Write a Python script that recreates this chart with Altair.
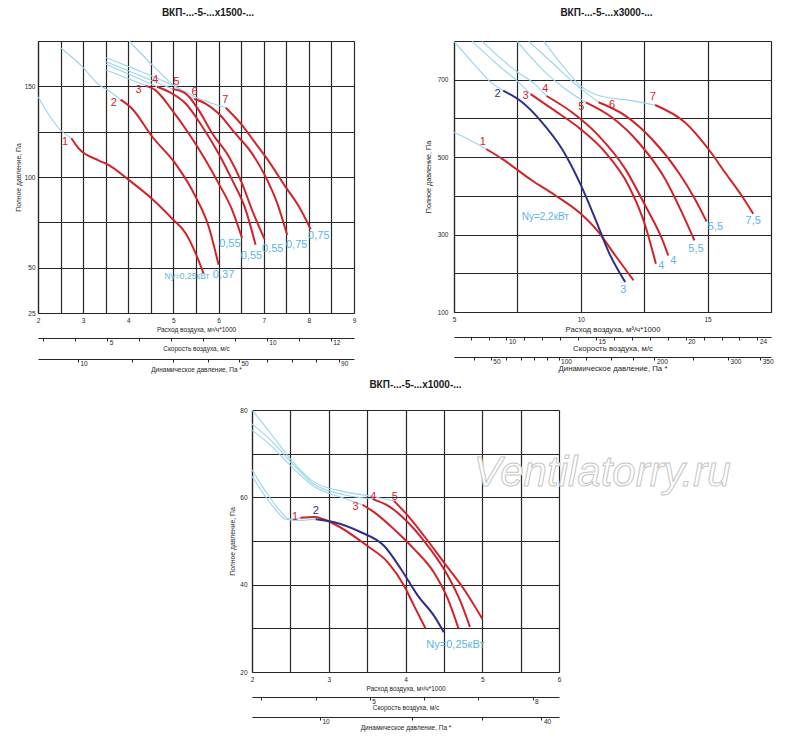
import json
import math
import altair as alt
import pandas as pd

# ---------------------------------------------------------------- constants
K = 1000.0 / (3600.0 * math.pi * 0.25 ** 2)   # m/s per 1000 m3/h, duct 500 mm
HALF_RHO = 0.6                                  # dynamic pressure = 0.6 * v^2

FONT = "Liberation Sans Narrow, Arial Narrow, Liberation Sans, Arial, sans-serif"
BFONT = "Liberation Sans, Arial, sans-serif"
RED = "#d2232a"
NAVY = "#2e3088"
CYAN = "#9ad4ec"
CYAN_TXT = "#5cb6df"
INK = "#262626"

# ---------------------------------------------------------------- panel A: x1500
A_CYAN = {
    "c1": [(2.00, 144.3), (2.50, 125.9), (2.74, 121.4)],
    "c2": [(2.50, 171.3), (2.98, 160.9), (3.35, 150.8), (3.54, 148.0), (3.83, 142.7)],
    "c3": [(4.02, 175.0), (4.53, 161.8), (5.01, 150.4), (5.46, 143.0)],
    "c4": [(3.51, 165.8), (4.61, 154.8), (5.01, 150.4), (5.50, 144.0), (6.16, 138.2)],
    "c5": [(3.51, 163.6), (4.98, 148.5)],
    "c6": [(3.51, 162.2), (4.64, 149.8)],
    "c7": [(3.51, 159.0), (4.38, 150.4)],
}
A_RED = {
    "1": [(2.74, 121.4), (2.90, 115.8), (3.34, 109.2), (3.57, 106.6), (4.01, 98.4),
          (4.53, 87.9), (5.00, 76.3), (5.27, 69.0), (5.49, 58.0), (5.67, 46.6)],
    "2": [(3.83, 142.7), (4.08, 137.8), (4.53, 122.2), (5.04, 107.5), (5.49, 89.2),
          (5.78, 72.7), (6.00, 51.6)],
    "3": [(4.38, 150.4), (4.60, 147.9), (4.97, 136.9), (5.34, 124.0), (5.71, 109.4),
          (6.00, 96.5), (6.30, 81.9), (6.52, 66.3)],
    "4": [(4.64, 149.8), (4.90, 147.0), (5.27, 140.5), (5.64, 127.7), (6.00, 113.0),
          (6.30, 98.4), (6.60, 81.9), (6.82, 62.6)],
    "5": [(4.98, 148.5), (5.27, 146.0), (5.56, 136.9), (5.86, 124.0), (6.23, 111.2),
          (6.52, 96.5), (6.74, 81.9), (7.02, 65.7)],
    "6": [(5.46, 143.0), (5.71, 140.5), (6.00, 135.0), (6.37, 124.0), (6.74, 113.0),
          (7.04, 100.2), (7.30, 85.5), (7.52, 68.1)],
    "7": [(6.16, 138.2), (6.52, 128.6), (6.82, 118.5), (7.04, 111.2), (7.48, 94.7),
          (7.78, 83.7), (8.04, 71.2)],
}
A_NAVY = {}
A_NUMS = [("1", 2.60, 119.4), ("2", 3.68, 140.9), ("3", 4.23, 148.2), ("4", 4.60, 153.5),
          ("5", 5.07, 152.4), ("6", 5.47, 146.6), ("7", 6.15, 142.4)]
A_NAVY_NUMS = []
A_KW = [("0,37", 6.11, 46.1), ("0,55", 6.25, 63.0), ("0,55", 6.73, 56.5), ("0,55", 7.20, 60.4),
        ("0,75", 7.73, 62.6), ("0,75", 8.22, 67.2)]
A_NY = [("Ny=0,25кВт", 5.30, 45.2)]

# ---------------------------------------------------------------- panel B: x3000
B_CYAN = {
    "c1": [(5.00, 564.0), (5.60, 545.0), (6.27, 521.0)],
    "c2": [(5.00, 799.0), (5.85, 736.0), (6.38, 697.5), (6.94, 671.8)],
    "c3": [(5.72, 799.0), (6.77, 736.0), (7.49, 697.0), (8.02, 663.0)],
    "c4": [(6.11, 799.0), (7.43, 723.0), (8.20, 688.0), (8.65, 658.0)],
    "c5": [(7.49, 799.0), (8.60, 719.0), (9.39, 676.0), (9.98, 650.0), (10.20, 641.7)],
    "c6": [(7.95, 799.0), (9.00, 736.0), (9.78, 689.0), (10.18, 668.0), (10.70, 641.7)],
    "c7": [(8.54, 799.0), (9.39, 727.7), (9.98, 684.7), (10.70, 659.0), (12.00, 646.0),
           (12.93, 634.8)],
}
B_RED = {
    "1": [(6.27, 521.0), (6.90, 495.5), (8.08, 439.6), (9.00, 401.0), (10.00, 353.7),
          (10.70, 306.4), (11.36, 246.0), (12.08, 181.7)],
    "3": [(8.02, 663.0), (8.87, 624.5), (9.98, 573.0), (10.96, 512.7), (11.88, 426.7),
          (12.54, 323.6), (12.96, 224.7)],
    "4": [(8.65, 658.0), (9.65, 616.0), (10.70, 555.7), (11.75, 469.7), (12.54, 375.0),
          (13.20, 289.0), (13.45, 246.0)],
    "5": [(10.20, 641.7), (11.22, 603.0), (12.27, 538.5), (13.32, 444.0), (13.98, 358.0),
          (14.48, 284.9)],
    "6": [(10.70, 641.7), (11.75, 607.3), (12.80, 547.0), (13.85, 461.0), (14.50, 392.0),
          (14.96, 333.9)],
    "7": [(12.93, 634.8), (14.10, 590.0), (15.03, 521.0), (15.68, 461.0), (16.34, 401.0),
          (16.80, 353.7)],
}
B_NAVY = {
    "2": [(6.94, 671.8), (7.69, 641.7), (8.47, 590.0), (9.26, 521.0), (9.98, 431.0),
          (10.57, 340.8), (11.10, 254.8), (11.75, 177.4)],
}
B_NUMS = [("1", 6.14, 540.0), ("3", 7.82, 657.0), ("4", 8.60, 676.0), ("5", 10.02, 628.8),
          ("6", 11.23, 635.0), ("7", 12.84, 656.0)]
B_NAVY_NUMS = [("2", 6.72, 663.0)]
B_KW = [("3", 11.68, 156.0), ("4", 13.17, 220.0), ("4", 13.65, 233.0), ("5,5", 14.54, 261.6),
        ("5,5", 15.31, 319.0), ("7,5", 16.80, 334.0)]
B_NY = [("Ny=2,2кВт", 8.60, 345.0)]

# ---------------------------------------------------------------- panel C: x1000
C_CYAN = {
    "c1": [(2.00, 80.0), (2.25, 74.5), (2.50, 68.8), (2.80, 63.6), (3.20, 61.3),
           (3.57, 60.2), (3.85, 59.2)],
    "c2": [(2.00, 76.8), (2.25, 73.0), (2.50, 68.2), (2.80, 63.1), (3.20, 60.6),
           (3.57, 59.6)],
    "c3": [(2.00, 75.4), (2.25, 71.8), (2.50, 67.3), (2.80, 62.6), (3.20, 59.8),
           (3.44, 58.3)],
    "c4": [(2.00, 66.3), (2.18, 61.3), (2.36, 57.0), (2.49, 55.0), (2.63, 55.3)],
    "c5": [(2.00, 64.8), (2.27, 58.0), (2.44, 55.0), (2.60, 54.7), (2.83, 55.0)],
}
C_RED = {
    "1": [(2.63, 55.3), (2.81, 55.5), (3.07, 53.9), (3.50, 48.9), (3.77, 45.1),
          (3.98, 39.8), (4.11, 35.2), (4.26, 30.0)],
    "3": [(3.44, 58.3), (3.59, 56.6), (3.85, 52.7), (4.11, 48.2), (4.37, 42.8),
          (4.55, 36.8), (4.69, 30.0)],
    "4": [(3.57, 59.6), (3.77, 58.1), (4.03, 54.3), (4.29, 48.9), (4.55, 42.1),
          (4.72, 36.0), (4.84, 30.3)],
    "5": [(3.85, 59.2), (4.03, 55.8), (4.24, 51.2), (4.50, 45.1), (4.76, 39.0),
          (5.00, 32.2)],
}
C_NAVY = {
    "2": [(2.83, 55.0), (3.07, 54.3), (3.42, 52.0), (3.72, 48.9), (3.94, 43.6),
          (4.16, 37.5), (4.37, 32.9), (4.50, 29.1)],
}
C_NUMS = [("1", 2.56, 55.6), ("3", 3.35, 57.9), ("4", 3.58, 60.1), ("5", 3.86, 60.1)]
C_NAVY_NUMS = [("2", 2.83, 56.9)]
C_KW = []
C_NY = [("Ny=0,25кВт", 4.65, 26.2)]
C_MARK = [("Ventilatorry.ru", 4.89, 65.5)]

# ---------------------------------------------------------------- axes values
A_Q = dict(dom=[2, 9], grid=[2, 2.5, 3, 3.5, 4, 4.5, 5, 5.5, 6, 6.5, 7, 7.5, 8, 8.5, 9],
           lab=[2, 3, 4, 5, 6, 7, 8, 9])
A_P = dict(dom=[25, 175], grid=[25, 50, 75, 100, 125, 150, 175], lab=[25, 50, 100, 150])
A_SP = dict(ticks=[3, 4, 5, 6, 7, 8, 9, 10, 11, 12], lab=[5, 10, 12])
A_DP = dict(ticks=[10, 20, 30, 40, 50, 60, 70, 80, 90], lab=[10, 50, 90])

B_Q = dict(dom=[5, 17.5], grid=[5, 7.5, 10, 12.5, 15, 17.5], lab=[5, 10, 15])
B_P = dict(dom=[100, 800], grid=[100, 200, 300, 400, 500, 600, 700, 800],
           lab=[100, 300, 500, 700])
B_SP = dict(ticks=list(range(8, 25)), lab=[10, 15, 20, 24])
B_DP = dict(ticks=[40, 50, 60, 70, 80, 90, 100, 125, 150, 175, 200, 250, 300, 350],
            lab=[50, 100, 200, 300, 350])

C_Q = dict(dom=[2, 6], grid=[2, 2.5, 3, 3.5, 4, 4.5, 5, 5.5, 6], lab=[2, 3, 4, 5, 6])
C_P = dict(dom=[20, 80], grid=[20, 30, 40, 50, 60, 70, 80], lab=[20, 40, 60, 80])
C_SP = dict(ticks=[3, 4, 5, 6, 7, 8], lab=[5, 8])
C_DP = dict(ticks=[10, 20, 30, 40], lab=[10, 40])


# ---------------------------------------------------------------- helpers
def curves_frame(curves):
    rows = [{"curve": k, "i": i, "Q": q, "P": p}
            for k, pts in curves.items() for i, (q, p) in enumerate(pts)]
    return pd.DataFrame(rows, columns=["curve", "i", "Q", "P"])


def labels_frame(items):
    return pd.DataFrame(items, columns=["t", "Q", "P"])


def pick(values):
    return "indexof(" + json.dumps(values) + ", datum.value) >= 0"


def show_only(values):
    return pick(values) + " ? format(datum.value, '~g') : ''"


def side_axis(title, ticks, lab, offset, tsize):
    return alt.Axis(orient="bottom", offset=offset, values=ticks, labelExpr=show_only(lab),
                    title=title, grid=False, ticks=True, tickSize=3,
                    labelAlign="left", labelOffset=2, labelPadding=-2, titlePadding=0,
                    titleFontSize=tsize, labelFlush=False, labelOverlap=False,
                    domainWidth=1)


def panel(title, qd, pd_, spd, dpd, cyan, red, navy, nums, navy_nums, kw, ny,
          width, height, title_dx, title_off, xt, yt, ylp, ytp, ny_size, dp_off,
          mark=None):
    q_scale = alt.Scale(domain=qd["dom"], nice=False, zero=False)
    p_scale = alt.Scale(domain=pd_["dom"], nice=False, zero=False)
    x_axis = alt.X("Q:Q", scale=q_scale,
                   axis=alt.Axis(values=qd["grid"], labelExpr=show_only(qd["lab"]),
                                 title="Расход воздуха, м³/ч*1000", grid=True, ticks=False,
                                 labelPadding=4, titlePadding=3, titleFontSize=xt,
                                 labelFlush=False, labelOverlap=False))
    x_plain = alt.X("Q:Q", scale=q_scale, axis=None)
    y_enc = alt.Y("P:Q", scale=p_scale,
                  axis=alt.Axis(values=pd_["grid"], labelExpr=show_only(pd_["lab"]),
                                title="Полное давление, Па", grid=True, ticks=False,
                                labelPadding=ylp, titlePadding=ytp, titleFontSize=yt,
                                labelFlush=False, labelOverlap=False))

    layers = [
        alt.Chart(curves_frame(cyan)).mark_line(color=CYAN, strokeWidth=1.1,
                                                interpolate="monotone")
        .encode(x=x_axis, y=y_enc, detail="curve:N", order="i:Q"),
        alt.Chart(curves_frame(red)).mark_line(color=RED, strokeWidth=2,
                                               interpolate="monotone")
        .encode(x=x_plain, y=y_enc, detail="curve:N", order="i:Q"),
    ]
    if navy:
        layers.append(
            alt.Chart(curves_frame(navy)).mark_line(color=NAVY, strokeWidth=2,
                                                    interpolate="monotone")
            .encode(x=x_plain, y=y_enc, detail="curve:N", order="i:Q"))

    def txt(items, color, size):
        return (alt.Chart(labels_frame(items))
                .mark_text(color=color, fontSize=size, font=FONT, align="center",
                           baseline="middle")
                .encode(x=x_plain, y=y_enc, text="t:N"))

    if nums:
        layers.append(txt(nums, RED, 11))
    if navy_nums:
        layers.append(txt(navy_nums, NAVY, 11))
    if kw:
        layers.append(txt(kw, CYAN_TXT, 11))
    if ny:
        layers.append(txt(ny, CYAN_TXT, ny_size))
    if mark:
        layers.append(
            alt.Chart(labels_frame(mark))
            .mark_text(font=BFONT, fontSize=42, fontStyle="italic", align="left",
                       baseline="middle", fill="white", stroke="#c6c6c6", strokeWidth=1)
            .encode(x=x_plain, y=y_enc, text="t:N"))

    q0, q1 = qd["dom"]
    p_low = [pd_["dom"][0]]
    sp_frame = pd.DataFrame({"v": spd["ticks"], "P": p_low * len(spd["ticks"])})
    dp_frame = pd.DataFrame({"v": dpd["ticks"], "P": p_low * len(dpd["ticks"])})
    speed = (alt.Chart(sp_frame).mark_point(opacity=0)
             .encode(y=y_enc,
                     x=alt.X("v:Q",
                             scale=alt.Scale(domain=[q0 * K, q1 * K], nice=False, zero=False),
                             axis=side_axis("Скорость воздуха, м/с", spd["ticks"],
                                            spd["lab"], 25, xt))))
    dyn = (alt.Chart(dp_frame).mark_point(opacity=0)
           .encode(y=y_enc,
                   x=alt.X("v:Q",
                           scale=alt.Scale(type="sqrt",
                                           domain=[HALF_RHO * (q0 * K) ** 2,
                                                   HALF_RHO * (q1 * K) ** 2],
                                           nice=False, zero=False),
                           axis=side_axis("Динамическое давление, Па *", dpd["ticks"],
                                          dpd["lab"], dp_off, xt))))
    layers += [speed, dyn]

    return (alt.layer(*layers)
            .resolve_scale(x="independent")
            .properties(width=width, height=height,
                        title=alt.TitleParams(text=title, font=BFONT, fontSize=10,
                                              fontWeight="bold", color="#1a1a1a",
                                              offset=title_off, anchor="middle",
                                              dx=title_dx)))


A = panel("ВКП-...-5-...х1500-...", A_Q, A_P, A_SP, A_DP, A_CYAN, A_RED, A_NAVY,
          A_NUMS, A_NAVY_NUMS, A_KW, A_NY, 316, 272, 12, 20, 6.5, 6.8, 3, 3, 8.5, 46)
B = panel("ВКП-...-5-...х3000-...", B_Q, B_P, B_SP, B_DP, B_CYAN, B_RED, B_NAVY,
          B_NUMS, B_NAVY_NUMS, B_KW, B_NY, 317, 271, -6, 20, 7.8, 7.2, 6, 5, 10, 45)
C = panel("ВКП-...-5-...х1000-...", C_Q, C_P, C_SP, C_DP, C_CYAN, C_RED, C_NAVY,
          C_NUMS, C_NAVY_NUMS, C_KW, C_NY, 307, 262, 10, 17, 6.5, 6.8, 5, 4, 11, 45,
          mark=C_MARK)

spacer = (alt.Chart(pd.DataFrame({"v": [0]})).mark_point(opacity=0)
          .encode(x=alt.X("v:Q", axis=None), y=alt.Y("v:Q", axis=None))
          .properties(width=191, height=10))

top = alt.hconcat(A, B, spacing=68)
bottom = alt.hconcat(spacer, C, spacing=0)

chart = (alt.vconcat(top, bottom, spacing=7)
         .properties(padding={"left": 7, "top": 0, "right": 4, "bottom": 4},
                     background="white")
         .configure_view(stroke=None)
         .configure_axis(labelFont=FONT, titleFont=FONT, labelFontSize=6.5,
                         titleFontSize=6.5, titleFontWeight="normal", labelColor=INK,
                         titleColor=INK, gridColor=INK, gridWidth=1.2, gridOpacity=1,
                         domainColor=INK, domainWidth=1.2, tickColor=INK, tickWidth=1))

chart.save("out.html", embed_options={"renderer": "svg", "actions": False})
